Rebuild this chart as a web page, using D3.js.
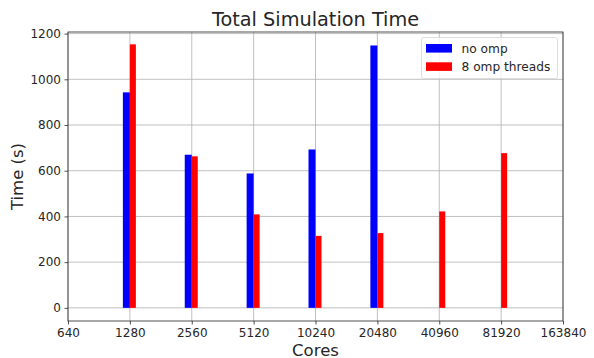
<!DOCTYPE html>
<html lang="en">
<head>
<meta charset="UTF-8">
<title>Total Simulation Time</title>
<style>
  body { margin: 0; background: #fff; }
  svg text { font-family: "DejaVu Sans", sans-serif; fill: #262626; }
</style>
</head>
<body>
<div id="chart"></div>
<script src="https://d3js.org/d3.v7.min.js"></script>
<script>
// data
const cores = [1280, 2560, 5120, 10240, 20480, 40960, 81920];
const noOmp = [943, 670, 588, 693, 1148, null, null];
const omp8 = [1153, 663, 409, 315, 327, 422, 677];
const xTicks = [640, 1280, 2560, 5120, 10240, 20480, 40960, 81920, 163840];
const yTicks = [0, 200, 400, 600, 800, 1000, 1200];
const seriesNames = ["no omp", "8 omp threads"];
const seriesColors = ["#0000ff", "#ff0000"];

const width = 594, height = 358;
const margin = { top: 32, right: 31, bottom: 37, left: 68 };

const svg = d3.select("#chart").append("svg")
    .attr("width", width)
    .attr("height", height);

const x = d3.scaleLog().base(2)
    .domain([640, 163840])
    .range([margin.left, width - margin.right]);

const y = d3.scaleLinear()
    .domain([-57.5, 1207])
    .range([height - margin.bottom, margin.top]);

// grid
const grid = svg.append("g");
grid.selectAll("line.vx").data(xTicks).enter().append("line")
    .attr("x1", d => x(d)).attr("x2", d => x(d))
    .attr("y1", margin.top).attr("y2", height - margin.bottom)
    .attr("stroke", "#b0b0b0").attr("stroke-width", 0.8);
grid.selectAll("line.hy").data(yTicks).enter().append("line")
    .attr("x1", margin.left).attr("x2", width - margin.right)
    .attr("y1", d => y(d)).attr("y2", d => y(d))
    .attr("stroke", "#b0b0b0").attr("stroke-width", 0.8);

// bars: blue to the left of the tick, red to the right
const bars = svg.append("g");
bars.selectAll("rect.a").data(cores.map((c, i) => [c, noOmp[i]]).filter(d => d[1] != null))
    .enter().append("rect")
    .attr("x", d => x(d[0]) - 7)
    .attr("width", 7)
    .attr("y", d => y(d[1]))
    .attr("height", d => y(0) - y(d[1]))
    .attr("fill", seriesColors[0]);
bars.selectAll("rect.b").data(cores.map((c, i) => [c, omp8[i]]))
    .enter().append("rect")
    .attr("x", d => x(d[0]))
    .attr("width", 6)
    .attr("y", d => y(d[1]))
    .attr("height", d => y(0) - y(d[1]))
    .attr("fill", seriesColors[1]);

// axes
const xAxis = svg.append("g")
    .attr("transform", `translate(0,${height - margin.bottom})`)
    .call(d3.axisBottom(x).tickValues(xTicks).tickFormat(d3.format("d")).tickSize(3.5).tickPadding(3.5));
const yAxis = svg.append("g")
    .attr("transform", `translate(${margin.left},0)`)
    .call(d3.axisLeft(y).tickValues(yTicks).tickFormat(d3.format("d")).tickSize(3.5).tickPadding(3.5));
[xAxis, yAxis].forEach(a => {
    a.select(".domain").remove();
    a.selectAll("line").attr("stroke", "#262626").attr("stroke-width", 0.8);
    a.selectAll("text").attr("font-size", "12px").attr("fill", "#262626");
});

// frame
svg.append("rect")
    .attr("x", margin.left).attr("y", margin.top)
    .attr("width", width - margin.left - margin.right)
    .attr("height", height - margin.top - margin.bottom)
    .attr("fill", "none").attr("stroke", "#262626").attr("stroke-width", 0.8);

// titles
svg.append("text")
    .attr("x", (margin.left + width - margin.right) / 2)
    .attr("y", 26)
    .attr("text-anchor", "middle")
    .attr("font-size", "19.3px")
    .text("Total Simulation Time");
svg.append("text")
    .attr("x", (margin.left + width - margin.right) / 2)
    .attr("y", 355.5)
    .attr("text-anchor", "middle")
    .attr("font-size", "16.5px")
    .text("Cores");
svg.append("text")
    .attr("transform", `translate(22.5,${(margin.top + height - margin.bottom) / 2}) rotate(-90)`)
    .attr("text-anchor", "middle")
    .attr("font-size", "16.5px")
    .text("Time (s)");

// legend
const legend = svg.append("g").attr("transform", "translate(421.5,37.5)");
legend.append("rect")
    .attr("width", 136).attr("height", 41).attr("rx", 2)
    .attr("fill", "#fff").attr("fill-opacity", 0.8)
    .attr("stroke", "#d6d6d6").attr("stroke-width", 0.8);
seriesNames.forEach((name, i) => {
    const row = legend.append("g").attr("transform", `translate(4.5,${6.5 + i * 18.3})`);
    row.append("rect").attr("width", 26).attr("height", 8.6).attr("fill", seriesColors[i]);
    row.append("text").attr("x", 35.5).attr("y", 8.5).attr("font-size", "12.2px").text(name);
});
</script>
</body>
</html>
